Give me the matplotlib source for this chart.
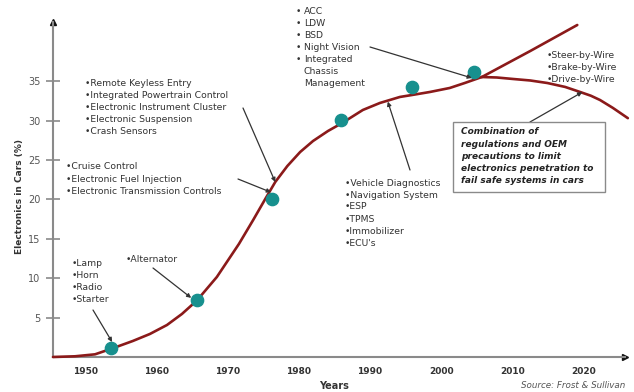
import matplotlib.pyplot as plt
from matplotlib.patches import Rectangle

# Electronics share in cars (%) over the years
years = [1945.5, 1948.6, 1951.4, 1953.8, 1956.7, 1959.1, 1961.5, 1963.6, 1965.7,
         1968.5, 1971.6, 1973.6, 1975.3, 1976.7, 1978.4, 1980.2, 1982.0, 1984.1,
         1986.1, 1989.0, 1991.4, 1994.2, 1995.9, 1998.4, 2001.2, 2003.3, 2005.7]
share = [0.0, 0.09, 0.34, 1.08, 2.03, 2.92, 4.06, 5.46, 7.17,
         10.15, 14.34, 17.38, 20.05, 22.2, 24.23, 26.01, 27.4, 28.67,
         29.69, 31.34, 32.23, 32.99, 33.24, 33.62, 34.13, 34.76, 35.52]

# unconstrained growth vs. limited (fail safe) path after 2005
upper_years = [2005.7, 2012.5, 2019.1]
upper_share = [35.52, 38.82, 42.12]
lower_years = [2005.7, 2007.8, 2010.1, 2012.5, 2014.9, 2017.4, 2019.5, 2021.0, 2022.3, 2024.1, 2026.2]
lower_share = [35.52, 35.46, 35.27, 35.08, 34.76, 34.26, 33.62, 33.15, 32.6, 31.6, 30.3]

# milestone markers
dot_years = [1953.7, 1965.7, 1976.2, 1986.0, 1995.9, 2004.6]
dot_share = [1.2, 7.2, 20.0, 30.1, 34.2, 36.1]

x_ticks = [1950, 1960, 1970, 1980, 1990, 2000, 2010, 2020]
y_ticks = [5, 10, 15, 20, 25, 30, 35]

W, H = 634, 392


def fig_xy(x, y):
    # pixel position (from top left) -> figure fraction
    return x / W, 1 - y / H


fig = plt.figure(figsize=(W / 100, H / 100), dpi=100)
ax = fig.add_axes([53 / W, 1 - 357 / H, (625 - 53) / W, (357 - 22) / H])
ax.set_xlim(1945.5, 2025.8)
ax.set_ylim(0, 42.5)

for side in ['top', 'right']:
    ax.spines[side].set_visible(False)
for side in ['left', 'bottom']:
    ax.spines[side].set_color('#8a8a8a')
    ax.spines[side].set_linewidth(1.5)

ax.set_xticks(x_ticks)
ax.tick_params(axis='x', length=0, pad=7, labelsize=6.5, labelcolor='#333333')
for lbl in ax.get_xticklabels():
    lbl.set_fontweight('bold')
ax.set_yticks(y_ticks)
ax.tick_params(axis='y', direction='inout', length=10, width=1.2, color='#8a8a8a',
               pad=4, labelsize=7, labelcolor='#555555')

# axis arrow heads
ax.plot([1945.5], [42.5], marker='^', color='#111111', ms=4, clip_on=False)
ax.plot([2025.8], [0], marker='>', color='#111111', ms=4, clip_on=False)

# curves
line_kw = dict(color='#8b1a1a', lw=1.9, solid_capstyle='round', solid_joinstyle='round',
               clip_on=False, zorder=3)
ax.plot(years, share, **line_kw)
ax.plot(upper_years, upper_share, **line_kw)
ax.plot(lower_years, lower_share, **line_kw)
ax.scatter(dot_years, dot_share, s=78, color='#17908e', zorder=4, clip_on=False)

fig.text(*fig_xy(20, 196), 'Electronics in Cars (%)', rotation=90, fontsize=6.5,
         fontweight='bold', color='#333333', ha='center', va='center')
fig.text(*fig_xy(334, 386), 'Years', fontsize=7, fontweight='bold', color='#333333',
         ha='center', va='center')
fig.text(*fig_xy(625, 386), 'Source: Frost & Sullivan', fontsize=6.3, style='italic',
         color='#555555', ha='right', va='center')

# feature lists
blocks = [
    (72, 263, ['•Lamp', '•Horn', '•Radio', '•Starter']),
    (126, 259, ['•Alternator']),
    (66, 167, ['•Cruise Control', '•Electronic Fuel Injection',
               '•Electronic Transmission Controls']),
    (85, 84, ['•Remote Keyless Entry', '•Integrated Powertrain Control',
              '•Electronic Instrument Cluster', '•Electronic Suspension',
              '•Crash Sensors']),
    (345, 183, ['•Vehicle Diagnostics', '•Navigation System', '•ESP', '•TPMS',
                '•Immobilizer', "•ECU's"]),
    (547, 56, ['•Steer-by-Wire', '•Brake-by-Wire', '•Drive-by-Wire']),
]
step = 12
for x0, y0, lines in blocks:
    for i, line in enumerate(lines):
        fig.text(*fig_xy(x0, y0 + i * step), line, fontsize=6.7, color='#333333',
                 ha='left', va='center')

adas = ['ACC', 'LDW', 'BSD', 'Night Vision', 'Integrated', 'Chassis', 'Management']
for i, line in enumerate(adas):
    if i < 5:
        fig.text(*fig_xy(296, 12 + i * step), '•', fontsize=6.7, color='#333333',
                 ha='left', va='center')
    fig.text(*fig_xy(304, 12 + i * step), line, fontsize=6.7, color='#333333',
             ha='left', va='center')

# note box
fig.add_artist(Rectangle(fig_xy(453, 192), (605 - 453) / W, (192 - 122) / H,
                         transform=fig.transFigure, facecolor='white',
                         edgecolor='#8a8a8a', lw=1, zorder=2))
note = ['Combination of', 'regulations and OEM', 'precautions to limit',
        'electronics penetration to', 'fail safe systems in cars']
for i, line in enumerate(note):
    fig.text(*fig_xy(461, 132 + i * 12.2), line, fontsize=6.5, fontweight='bold',
             style='italic', color='#222222', ha='left', va='center', zorder=3)

# pointer arrows: (target year, target share, tail px x, tail px y)
arrows = [
    (1953.8, 1.9, 93, 310),
    (1964.9, 7.5, 153, 268),
    (1976.1, 20.9, 238, 179),
    (1976.7, 22.2, 243, 108),
    (2004.3, 35.4, 370, 47),
    (1992.5, 32.4, 410, 170),
    (2019.8, 33.6, 530, 122),
]
for yr, val, tx, ty in arrows:
    ax.annotate('', xy=(yr, val), xycoords='data', xytext=fig_xy(tx, ty),
                textcoords='figure fraction',
                arrowprops=dict(arrowstyle='-|>', color='#333333', lw=0.9,
                                mutation_scale=6, shrinkA=0, shrinkB=0),
                annotation_clip=False, zorder=5)

fig.savefig('out.png', dpi=100)
